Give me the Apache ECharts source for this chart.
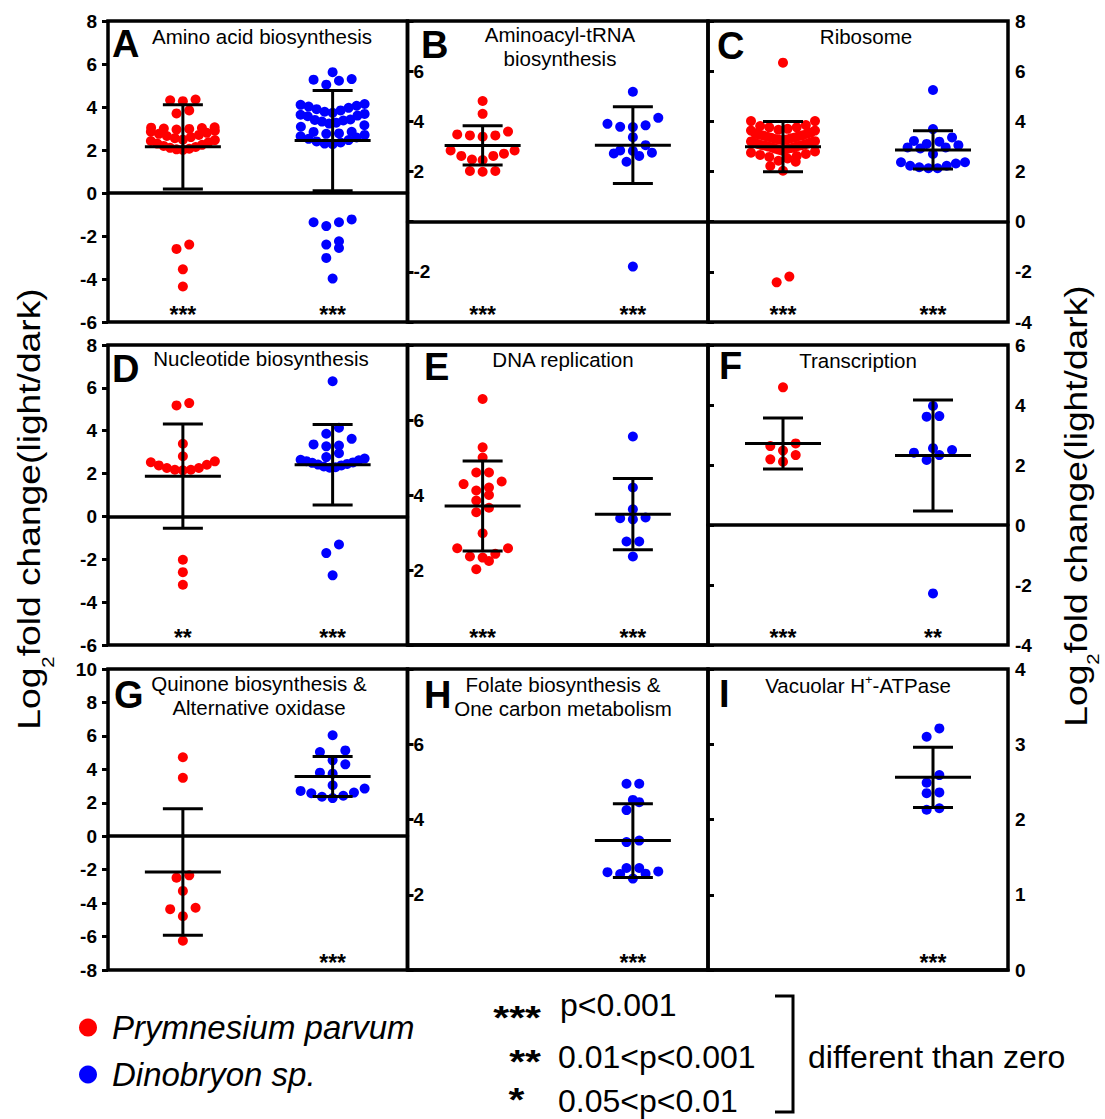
<!DOCTYPE html>
<html><head><meta charset="utf-8">
<script src="https://cdn.jsdelivr.net/npm/echarts@6/dist/echarts.min.js"></script>
<style>html,body{margin:0;padding:0;background:#fff}#chart{width:1105px;height:1119px}</style>
</head><body><div id="chart"></div>
<script>
// ---------------- data ----------------
const panelLetters = ['A','B','C','D','E','F','G','H','I'];
const panelTitles = ['Amino acid biosynthesis','Aminoacyl-tRNA\nbiosynthesis','Ribosome',
  'Nucleotide biosynthesis','DNA replication','Transcription',
  'Quinone biosynthesis &\nAlternative oxidase','Folate biosynthesis &\nOne carbon metabolism','Vacuolar H{sup|+}-ATPase'];
const speciesNames = ['Prymnesium parvum','Dinobryon sp.'];
const yMin  = [-6,-4,-4,-6,0,-4,-8,0,0];
const yMax  = [ 8, 8, 8, 8,8, 6,10,8,4];
const yStep = [ 2, 2, 2, 2,2, 2, 2,2,1];
const hiddenTickLabels = [[],[8,0,-4],[],[],[8,0],[],[],[8,0],[]];

const prymA = [4.31,4.35,4.27,3.84,3.70,3.06,3.04,3.02,3.00,2.98,2.95,2.90,2.85,2.80,2.75,2.70,2.65,2.60,2.55,2.48,2.46,2.42,2.36,2.30,2.24,2.19,2.14,2.10,2.06,2.03,2.00,-2.40,-2.60,-3.55,-4.35];
const dinoA = [5.62,5.30,5.27,5.22,5.04,4.14,4.10,4.06,4.02,3.96,3.90,3.84,3.78,3.73,3.68,3.64,3.60,3.57,3.42,3.40,3.37,3.32,3.27,3.23,3.15,3.08,2.85,2.84,2.77,2.75,2.70,2.64,2.58,2.52,2.46,2.40,2.35,2.30,2.27,-1.23,-1.36,-1.36,-1.54,-2.25,-2.40,-2.56,-3.02,-3.98];
const prymB = [4.81,4.30,3.59,3.48,3.44,3.44,3.39,2.84,2.84,2.71,2.62,2.62,2.48,2.46,2.02,2.02,1.99];
const dinoB = [5.18,4.14,3.90,3.84,3.78,3.77,3.37,3.05,2.84,2.82,2.75,2.72,2.62,2.39,-1.79];
const prymC = [6.34,4.01,4.01,3.85,3.81,3.76,3.76,3.70,3.66,3.63,3.63,3.55,3.52,3.50,3.47,3.45,3.44,3.42,3.39,3.36,3.35,3.33,3.30,3.28,3.27,3.24,3.21,3.20,3.18,3.15,3.12,3.10,3.08,3.06,3.05,3.04,3.02,3.00,2.98,2.97,2.94,2.92,2.91,2.88,2.86,2.84,2.80,2.75,2.70,2.66,2.62,2.58,2.52,2.43,2.39,2.22,2.03,-2.19,-2.42];
const dinoC = [5.25,3.69,3.36,3.22,3.19,3.10,3.05,2.96,2.96,2.92,2.70,2.37,2.37,2.32,2.23,2.23,2.17,2.13,2.13];
const prymD = [5.29,5.18,3.39,2.81,2.57,2.53,2.41,2.38,2.26,2.26,2.18,2.18,2.15,-2.02,-2.60,-3.19];
const dinoD = [6.31,4.14,3.86,3.62,3.36,3.31,3.27,2.95,2.77,2.70,2.64,2.62,2.58,2.52,2.50,2.45,2.42,2.38,2.33,2.30,2.27,-1.31,-1.71,-2.75];
const prymE = [6.56,5.27,5.00,4.60,4.60,4.36,4.29,4.20,4.12,4.00,3.85,3.66,3.54,2.98,2.58,2.58,2.43,2.36,2.33,2.24,2.02];
const dinoE = [5.56,4.20,3.62,3.40,3.38,3.35,2.76,2.76,2.36];
const prymF = [4.59,2.72,2.63,2.48,2.33,2.19,2.11];
const dinoF = [3.97,3.63,3.61,2.56,2.50,2.41,2.33,2.17,-2.28];
const prymG = [4.72,3.49,-2.34,-2.48,-3.27,-4.28,-4.36,-4.78,-6.25];
const dinoG = [6.04,5.13,5.03,4.54,4.30,3.80,3.74,3.05,2.85,2.71,2.61,2.57,2.42,2.36,2.28];
const prymH = [];
const dinoH = [4.95,4.95,4.52,4.46,4.25,3.44,3.40,2.71,2.71,2.62,2.60,2.56,2.55,2.43];
const prymI = [];
const dinoI = [3.21,3.10,2.59,2.49,2.36,2.35,2.15,2.13];

// mean and SD (error bars)
const prymMean = [2.15,3.04,2.99,1.88,3.71,2.72,-2.14,null,null];
const prymSD   = [1.96,0.78,1.00,2.43,1.20,0.85,3.78,null,null];
const dinoMean = [2.44,3.05,2.86,2.41,3.49,2.32,3.57,3.44,2.56];
const dinoSD   = [2.33,1.53,0.76,1.88,0.95,1.85,1.19,0.98,0.40];
const prymStars = ['***','***','***','**','***','***','','',''];
const dinoStars = ['***','***','***','***','***','**','***','***','***'];

const sigSymbols = ['***','**','*'];
const sigTexts = ['p<0.001','0.01<p<0.001','0.05<p<0.01'];
const sigNote = 'different than zero';
const axisTitleParts = ['Log','2','fold change(light/dark)'];

// ---------------- layout ----------------
const FONT = "'Liberation Sans', Arial, Helvetica, sans-serif";
const RED = '#ff0000', BLUE = '#0000ff';
const colLeft = [108, 407.5, 708], colWidth = [299.5, 300.5, 300];
const rowTop = [21, 345, 669], rowHeight = [301, 300, 301];
const titlePos = [[262,36],[560,46.5],[866,36],[261,358],[563,359],[858,360],[259,695],[563,696],[858,685]];
const letterPos = [[112,43.5],[421,45],[717,45.5],[112,369],[424,367],[719,366],[114,695],[424,695],[719,694]];
const ROW_PX = 10, STEP_PX = 12.7, MAX_HALF_PX = 32;

const prymSets = [prymA,prymB,prymC,prymD,prymE,prymF,prymG,prymH,prymI];
const dinoSets = [dinoA,dinoB,dinoC,dinoD,dinoE,dinoF,dinoG,dinoH,dinoI];

// GraphPad-like scatter-dot placement: values grouped in rows, spread from centre out
function swarm(values, center, pxY, pxX) {
  const idx = values.map((v, i) => i).sort((a, b) => values[a] - values[b]);
  const out = new Array(values.length);
  let k = 0;
  while (k < idx.length) {
    const start = values[idx[k]];
    const row = [];
    while (k < idx.length && (values[idx[k]] - start) * pxY < ROW_PX) { row.push(idx[k]); k++; }
    const n = row.length;
    const step = n > 1 ? Math.min(STEP_PX, 2 * MAX_HALF_PX / (n - 1)) : 0;
    row.forEach((id, j) => {
      let slot;
      if (n % 2 === 1) slot = j === 0 ? 0 : (j % 2 === 1 ? -Math.ceil(j / 2) : Math.ceil(j / 2));
      else { const h = Math.floor(j / 2) + 0.5; slot = j % 2 === 0 ? -h : h; }
      out[id] = [center + slot * step / pxX, values[id]];
    });
  }
  return out;
}

function errorBar(params, api) {
  const x = api.value(0), m = api.value(1), s = api.value(2);
  const c = api.coord([x, m]), t = api.coord([x, m + s]), b = api.coord([x, m - s]);
  const st = { stroke: '#000', lineWidth: 3 };
  return { type: 'group', children: [
    { type: 'line', shape: { x1: c[0] - 38, y1: c[1], x2: c[0] + 38, y2: c[1] }, style: st },
    { type: 'line', shape: { x1: c[0], y1: t[1], x2: c[0], y2: b[1] }, style: st },
    { type: 'line', shape: { x1: c[0] - 20, y1: t[1], x2: c[0] + 20, y2: t[1] }, style: st },
    { type: 'line', shape: { x1: c[0] - 20, y1: b[1], x2: c[0] + 20, y2: b[1] }, style: st }
  ]};
}

function txt(x, y, text, o) {
  o = o || {};
  const style = { text: text, fill: '#000', fontFamily: FONT, fontSize: o.size || 20, fontWeight: o.weight || 'normal',
      fontStyle: o.style || 'normal', align: o.align || 'center', textAlign: o.align || 'center',
      verticalAlign: 'middle', textVerticalAlign: 'middle' };
  if (o.lineHeight) style.lineHeight = o.lineHeight;
  if (o.rich) style.rich = o.rich;
  return { type: 'text', x: x, y: y, scaleX: o.scaleX || 1, z: 100, style: style };
}

const mctx = document.createElement('canvas').getContext('2d');
function textWidth(s, size) { mctx.font = size + 'px ' + FONT; return mctx.measureText(s).width; }

// rotated axis title, built from three text pieces laid out along the text direction
function axisTitle(cx, cy, subOffset) {
  const MAIN = 31, SUB = 17, SX = 1.2;
  const w0 = textWidth(axisTitleParts[0], MAIN), w1 = textWidth(axisTitleParts[1], SUB), w2 = textWidth(axisTitleParts[2], MAIN);
  const x0 = -(w0 + w1 + w2) / 2;
  return { type: 'group', x: cx, y: cy, rotation: Math.PI / 2, scaleX: SX, z: 100, children: [
    txt(x0, 0, axisTitleParts[0], { size: MAIN, align: 'left' }),
    txt(x0 + w0, subOffset, axisTitleParts[1], { size: SUB, align: 'left', lineHeight: 12 }),
    txt(x0 + w0 + w1, 0, axisTitleParts[2], { size: MAIN, align: 'left' })
  ]};
}

const grid = [], xAxis = [], yAxis = [], series = [], elements = [];
for (let i = 0; i < 9; i++) {
  const col = i % 3, row = Math.floor(i / 3);
  const L = colLeft[col], W = colWidth[col], T = rowTop[row], H = rowHeight[row];
  grid.push({ left: L, top: T, width: W, height: H, show: true, borderColor: '#000', borderWidth: 3.5,
    backgroundColor: 'transparent', outerBoundsMode: 'none' });
  xAxis.push({ gridIndex: i, type: 'value', min: 0, max: 4, show: true,
    axisLine: { show: true, onZero: true, lineStyle: { color: '#000', width: 3.5 } },
    axisTick: { show: false }, axisLabel: { show: false }, splitLine: { show: false } });
  const hidden = hiddenTickLabels[i];
  yAxis.push({ gridIndex: i, type: 'value', min: yMin[i], max: yMax[i], interval: yStep[i],
    position: col === 2 ? 'right' : 'left',
    axisLine: { show: false }, splitLine: { show: false },
    axisTick: { show: true, inside: col === 1, length: 6, lineStyle: { color: '#000', width: 3 } },
    axisLabel: { inside: col === 1, margin: col === 0 ? 11 : (col === 1 ? 6 : 7), color: '#000',
      fontFamily: FONT, fontWeight: 'bold', fontSize: 19,
      formatter: v => hidden.indexOf(v) >= 0 ? '' : String(v) } });
  const pxY = H / (yMax[i] - yMin[i]), pxX = W / 4;
  if (prymSets[i].length) series.push({ type: 'scatter', name: speciesNames[0], xAxisIndex: i, yAxisIndex: i,
    data: swarm(prymSets[i], 1, pxY, pxX), symbolSize: 10, itemStyle: { color: RED, opacity: 1 }, z: 2, silent: true });
  if (dinoSets[i].length) series.push({ type: 'scatter', name: speciesNames[1], xAxisIndex: i, yAxisIndex: i,
    data: swarm(dinoSets[i], 3, pxY, pxX), symbolSize: 10, itemStyle: { color: BLUE, opacity: 1 }, z: 2, silent: true });
  const bars = [];
  if (prymMean[i] !== null) bars.push([1, prymMean[i], prymSD[i]]);
  if (dinoMean[i] !== null) bars.push([3, dinoMean[i], dinoSD[i]]);
  series.push({ type: 'custom', xAxisIndex: i, yAxisIndex: i, renderItem: errorBar, data: bars, z: 5, silent: true,
    encode: { x: 0, y: 1 } });

  // title, letter, stars
  elements.push(txt(titlePos[i][0], titlePos[i][1], panelTitles[i], { size: 20.5, lineHeight: 24,
    rich: { sup: { fontSize: 13, fontFamily: FONT, padding: [0, 0, 12, 0] } } }));
  elements.push(txt(letterPos[i][0], letterPos[i][1], panelLetters[i], { size: 38, weight: 'bold', align: 'left' }));
  const starY = T + H - 7;
  if (prymStars[i]) elements.push(txt(L + W * 0.25, starY, prymStars[i], { size: 23, weight: 'bold', lineHeight: 14 }));
  if (dinoStars[i]) elements.push(txt(L + W * 0.75, starY, dinoStars[i], { size: 23, weight: 'bold', lineHeight: 14 }));
}

elements.push(axisTitle(29, 509, 19));
elements.push(axisTitle(1076, 506, 17));

// significance legend
const sigStarPos = [[541, 1017, 'right'], [541, 1061, 'right'], [516.5, 1099, 'center']];
const sigTextY = [1005, 1057, 1101];
for (let k = 0; k < 3; k++) {
  elements.push(txt(sigStarPos[k][0], sigStarPos[k][1], sigSymbols[k], { size: 34, weight: 'bold', align: sigStarPos[k][2], lineHeight: 14, scaleX: 1.2 }));
  elements.push(txt(k === 0 ? 560 : 558, sigTextY[k], sigTexts[k], { size: 32, align: 'left', lineHeight: 30 }));
}
elements.push(txt(808, 1057, sigNote, { size: 32, align: 'left', lineHeight: 30 }));
elements.push({ type: 'polyline', shape: { points: [[775, 996], [793, 996], [793, 1112], [775, 1112]] },
  style: { stroke: '#000', lineWidth: 3, fill: null }, z: 100 });

const chart = echarts.init(document.getElementById('chart'), null, { renderer: 'svg' });
chart.setOption({
  animation: false,
  backgroundColor: '#fff',
  legend: { orient: 'vertical', left: 79, top: 1011, padding: 0, itemWidth: 18, itemHeight: 18, itemGap: 14,
    icon: 'circle', selectedMode: false,
    textStyle: { fontSize: 33, fontStyle: 'italic', fontFamily: FONT, color: '#000', lineHeight: 33, padding: [0, 0, 0, 10] },
    data: [{ name: speciesNames[0], itemStyle: { color: RED } }, { name: speciesNames[1], itemStyle: { color: BLUE } }] },
  grid: grid, xAxis: xAxis, yAxis: yAxis, series: series,
  graphic: { elements: elements }
});
</script></body></html>
